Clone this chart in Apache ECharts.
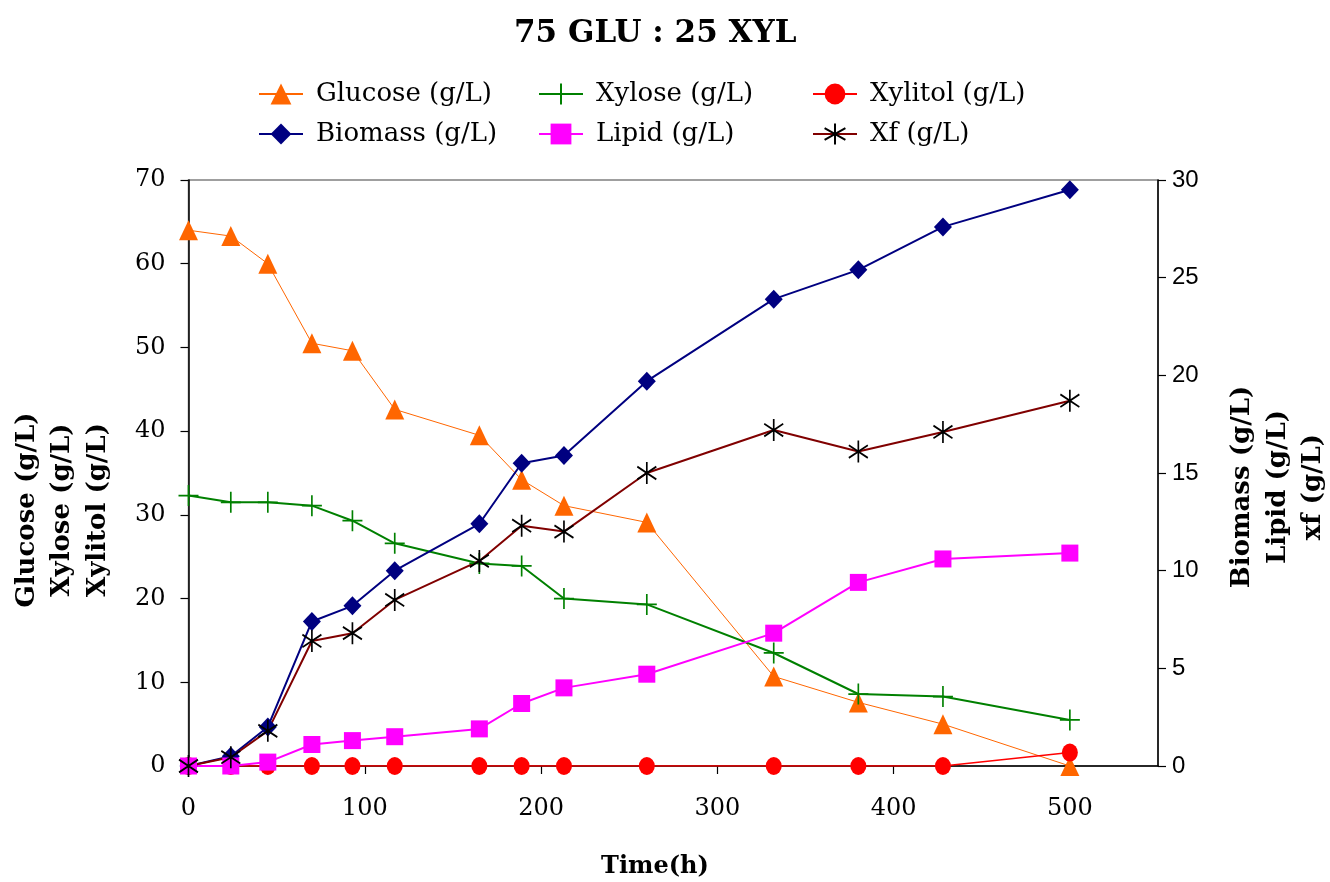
<!DOCTYPE html>
<html>
<head>
<meta charset="utf-8">
<title>75 GLU : 25 XYL</title>
<script src="https://cdn.jsdelivr.net/npm/echarts@6/dist/echarts.min.js"></script>
<style>
  html, body { margin: 0; padding: 0; background: #ffffff; }
  #chart { width: 1330px; height: 882px; }
</style>
</head>
<body>
<div id="chart"></div>
<script>
// Sampling times (h)
const timeH = [0, 24, 45, 70, 93, 117, 165, 189, 213, 260, 332, 380, 428, 500];

// Left axis series (g/L)
const glucose = [64.0, 63.3, 60.0, 50.5, 49.6, 42.6, 39.5, 34.2, 31.1, 29.1, 10.7, 7.6, 5.0, 0.0];
const xylose  = [32.3, 31.5, 31.5, 31.1, 29.3, 26.6, 24.2, 23.9, 20.0, 19.3, 13.5, 8.6, 8.3, 5.5];
const xylitol = [0, 0, 0, 0, 0, 0, 0, 0, 0, 0, 0, 0, 0, 1.6];

// Right axis series (g/L)
const biomass = [0, 0.5, 2.0, 7.4, 8.2, 10.0, 12.4, 15.5, 15.9, 19.7, 23.9, 25.4, 27.6, 29.5];
const lipid   = [0, 0, 0.2, 1.1, 1.3, 1.5, 1.9, 3.2, 4.0, 4.7, 6.8, 9.4, 10.6, 10.9];
const xf      = [0, 0.45, 1.8, 6.4, 6.8, 8.5, 10.5, 12.3, 12.0, 15.0, 17.2, 16.1, 17.1, 18.7];

// Axis scales
const xTicks = { min: 0, max: 550, step: 100 };
const leftTicks = { min: 0, max: 70, step: 10 };
const rightTicks = { min: 0, max: 30, step: 5 };

const SERIF = "'DejaVu Serif', 'Liberation Serif', serif";
const SANS = "'Liberation Sans', Arial, sans-serif";

// Stroked marker shapes: plus and asterisk
const PLUS = 'path://M10,0L10,20M0,10L20,10';
const STAR = 'path://M9,0L9,21M0,4.5L18,16.5M0,16.5L18,4.5';

const pairs = vals => timeH.map((t, i) => [t, vals[i]]);

const chart = echarts.init(document.getElementById('chart'), null, { renderer: 'canvas' });

const axisLineBlack = { show: true, lineStyle: { color: '#000', width: 1.5 } };
const tickOut = { show: true, inside: false, length: 8, lineStyle: { color: '#000', width: 1.2 } };

const legendBase = {
  orient: 'vertical',
  top: 81,
  padding: 0,
  itemGap: 14,
  itemWidth: 44,
  itemHeight: 26,
  textStyle: { fontFamily: SERIF, fontSize: 26, color: '#000', padding: [0, 0, 0, 8] },
  selectedMode: false
};

const option = {
  animation: false,
  backgroundColor: '#ffffff',
  title: {
    text: '75 GLU : 25 XYL',
    left: 509,
    top: 13,
    textStyle: { fontFamily: SERIF, fontWeight: 'bold', fontSize: 31, color: '#000' }
  },
  legend: [
    Object.assign({}, legendBase, { left: 258, data: ['Glucose (g/L)', 'Biomass (g/L)'] }),
    Object.assign({}, legendBase, { left: 538, data: ['Xylose (g/L)', 'Lipid (g/L)'] }),
    Object.assign({}, legendBase, { left: 812, data: ['Xylitol (g/L)', 'Xf (g/L)'] })
  ],
  grid: {
    left: 188.5, right: 172, top: 180, bottom: 116,
    show: true, borderColor: '#808080', borderWidth: 1.5, backgroundColor: 'transparent'
  },
  xAxis: {
    type: 'value',
    min: xTicks.min, max: xTicks.max, interval: xTicks.step,
    axisLine: axisLineBlack,
    axisTick: tickOut,
    splitLine: { show: false },
    axisLabel: { margin: 31, fontFamily: SERIF, fontSize: 24, color: '#000', showMaxLabel: false }
  },
  yAxis: [
    {
      type: 'value', position: 'left',
      min: leftTicks.min, max: leftTicks.max, interval: leftTicks.step,
      axisLine: axisLineBlack,
      axisTick: tickOut,
      splitLine: { show: false },
      axisLabel: { margin: 23, fontFamily: SERIF, fontSize: 24, color: '#000' }
    },
    {
      type: 'value', position: 'right',
      min: rightTicks.min, max: rightTicks.max, interval: rightTicks.step,
      axisLine: axisLineBlack,
      axisTick: tickOut,
      splitLine: { show: false },
      axisLabel: { margin: 14, fontFamily: SANS, fontSize: 24, color: '#000' }
    }
  ],
  series: [
    {
      name: 'Glucose (g/L)', type: 'line', yAxisIndex: 0, data: pairs(glucose),
      symbol: 'triangle', symbolSize: [19, 20],
      lineStyle: { color: '#FF6600', width: 1 },
      itemStyle: { color: '#FF6600' }
    },
    {
      name: 'Xylose (g/L)', type: 'line', yAxisIndex: 0, data: pairs(xylose),
      symbol: PLUS, symbolSize: [20, 21],
      lineStyle: { color: '#008000', width: 2 },
      itemStyle: { color: '#008000', borderColor: '#008000', borderWidth: 1.7 }
    },
    {
      name: 'Xylitol (g/L)', type: 'line', yAxisIndex: 0, data: pairs(xylitol),
      symbol: 'circle', symbolSize: [16, 18],
      lineStyle: { color: '#FF0000', width: 1.5 },
      itemStyle: { color: '#FF0000' }
    },
    {
      name: 'Biomass (g/L)', type: 'line', yAxisIndex: 1, data: pairs(biomass),
      symbol: 'diamond', symbolSize: [18, 19],
      lineStyle: { color: '#000080', width: 2 },
      itemStyle: { color: '#000080' }
    },
    {
      name: 'Lipid (g/L)', type: 'line', yAxisIndex: 1, data: pairs(lipid),
      symbol: 'rect', symbolSize: [17, 17],
      lineStyle: { color: '#FF00FF', width: 2 },
      itemStyle: { color: '#FF00FF' }
    },
    {
      name: 'Xf (g/L)', type: 'line', yAxisIndex: 1, data: pairs(xf),
      symbol: STAR, symbolSize: [19, 22],
      lineStyle: { color: '#800000', width: 2 },
      itemStyle: { color: '#000000', borderColor: '#000000', borderWidth: 1.8 }
    }
  ],
  graphic: [
    // x-axis title
    { type: 'text', x: 655, y: 867,
      style: { text: 'Time(h)', align: 'center', verticalAlign: 'middle', fontFamily: SERIF, fontWeight: 'bold', fontSize: 24, fill: '#000' } },
    // left axis title lines
    { type: 'text', x: 27, y: 510, rotation: Math.PI / 2,
      style: { text: 'Glucose (g/L)', align: 'center', verticalAlign: 'middle', fontFamily: SERIF, fontWeight: 'bold', fontSize: 26, fill: '#000' } },
    { type: 'text', x: 62, y: 510, rotation: Math.PI / 2,
      style: { text: 'Xylose (g/L)', align: 'center', verticalAlign: 'middle', fontFamily: SERIF, fontWeight: 'bold', fontSize: 26, fill: '#000' } },
    { type: 'text', x: 98, y: 510, rotation: Math.PI / 2,
      style: { text: 'Xylitol (g/L)', align: 'center', verticalAlign: 'middle', fontFamily: SERIF, fontWeight: 'bold', fontSize: 26, fill: '#000' } },
    // right axis title lines
    { type: 'text', x: 1242, y: 487, rotation: Math.PI / 2,
      style: { text: 'Biomass (g/L)', align: 'center', verticalAlign: 'middle', fontFamily: SERIF, fontWeight: 'bold', fontSize: 26, fill: '#000' } },
    { type: 'text', x: 1278, y: 487, rotation: Math.PI / 2,
      style: { text: 'Lipid (g/L)', align: 'center', verticalAlign: 'middle', fontFamily: SERIF, fontWeight: 'bold', fontSize: 26, fill: '#000' } },
    { type: 'text', x: 1313, y: 487, rotation: Math.PI / 2,
      style: { text: 'xf (g/L)', align: 'center', verticalAlign: 'middle', fontFamily: SERIF, fontWeight: 'bold', fontSize: 26, fill: '#000' } }
  ]
};

chart.setOption(option);
</script>
</body>
</html>
